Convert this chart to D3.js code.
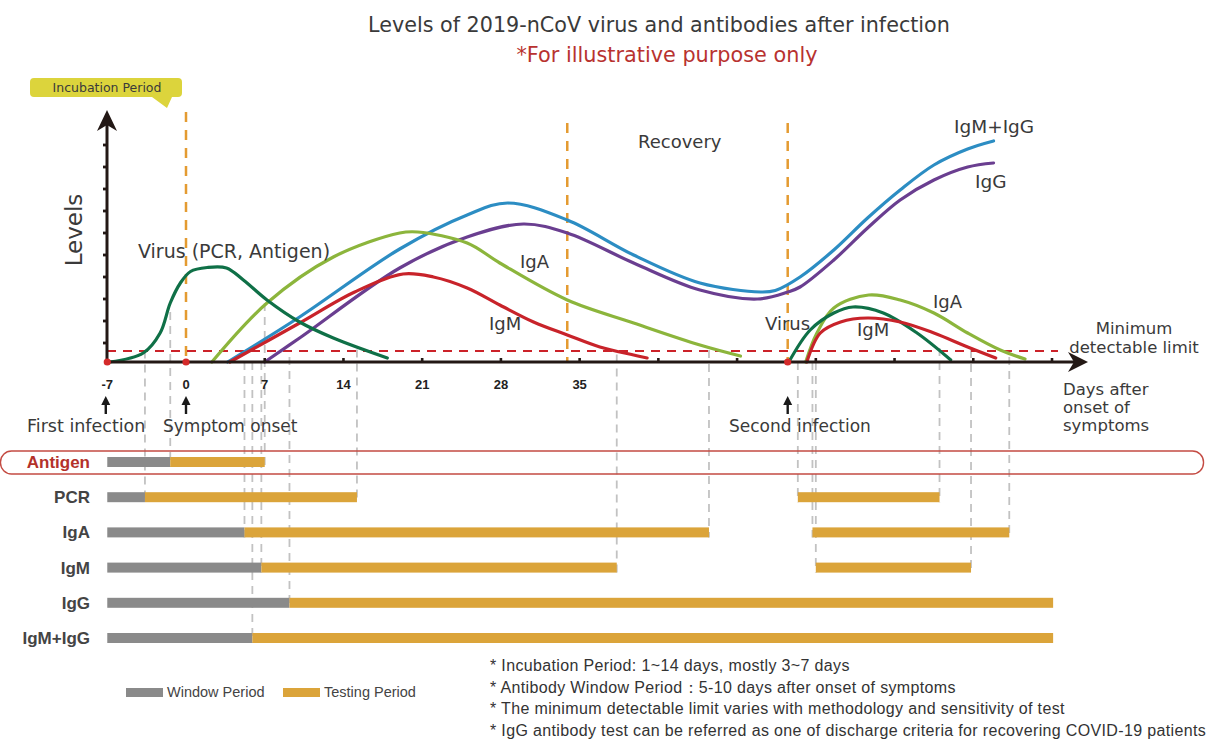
<!DOCTYPE html>
<html>
<head>
<meta charset="utf-8">
<script src="https://cdn.jsdelivr.net/npm/d3@7"></script>
<style>
  body { margin: 0; background: #fff; }
  svg { display: block; font-family: "DejaVu Sans", sans-serif; }
</style>
</head>
<body>
<svg id="chart" width="1206" height="740"></svg>
<script>
// ---- data (x = days after onset, y = relative level 0..100) ----
const dayTicks = [-7, 0, 7, 14, 21, 28, 35];
const tickMarks = [7, 14, 21, 28, 35, 42, 49, 56, 63, 70, 77];
const levelTicks = [7.6, 16.4, 25.2, 34, 42.8, 51.6, 60.4, 69.2, 78, 86.8];
const detectLimit = 4.4;
const infectionDays = [-7, 0, 53.5];

const virus1 = [[-6.8,0],[-3.8,3.6],[-2.3,11.6],[-1.4,23.6],[-0.5,31.6],[0.4,36.2],[1.9,37.8],[3.6,37.6],[5.1,32.8],[7.2,24.8],[10.1,16],[13.1,9.6],[17.9,1.6]];
const iga1 = [[2.3,0],[7.2,23.6],[13.1,42],[19,51.6],[20.6,52],[25,47.6],[27.9,39.6],[33.9,24.8],[39.8,15.6],[45.7,6.8],[49.3,2.4]];
const igmigg = [[3.7,0],[10.1,18],[19,45.2],[25,58.8],[28.6,63.6],[33.9,56.8],[39.8,42.8],[45.7,31.6],[51.1,28],[52.4,28.6],[54.6,34],[57.6,44.8],[60.6,57.6],[63.5,68.8],[66.5,78.8],[69.5,85.2],[71.8,88.4]];
const igg = [[7,0],[10.1,9.6],[19,37.6],[25,50],[30,55.2],[33.9,51.6],[39.8,39.6],[45.7,28.8],[50.8,25.2],[53.5,28],[54.6,30],[57.6,40.8],[60.6,53.6],[63.5,64.8],[66.5,72.8],[69.5,78],[71.8,79.6]];
const igm1 = [[3.9,0],[10.1,15.6],[15,28],[19.3,35.2],[22,34],[25,29.6],[27.9,22.8],[30.9,16],[33.9,10.8],[36.8,6],[39.8,2.8],[41,1.6]];
const virus2 = [[53.6,0],[55.5,12.8],[57.6,19.6],[59.3,22],[62,19.6],[65,11.6],[68,0.8]];
const iga2 = [[55.1,0],[56.1,11.6],[57.6,21.6],[60.7,26.8],[63.5,24.8],[66.5,19.6],[69.5,11.6],[72.4,4.8],[74.6,1.2]];
const igm2 = [[55.2,0],[56.4,11.6],[58.2,16],[60.6,17.6],[63.5,16],[66.5,11.6],[69.5,6],[72,1.6]];

const phaseLines = [0, 33.9, 53.5];

const rows = ["Antigen", "PCR", "IgA", "IgM", "IgG", "IgM+IgG"];
// [row, start, end, kind]
const periods = [
  ["Antigen", -7, -1.4, "window"], ["Antigen", -1.4, 7, "testing"],
  ["PCR", -7, -3.65, "window"], ["PCR", -3.65, 15.2, "testing"], ["PCR", 54.4, 67, "testing"],
  ["IgA", -7, 5.2, "window"], ["IgA", 5.2, 46.5, "testing"], ["IgA", 55.7, 73.2, "testing"],
  ["IgM", -7, 6.7, "window"], ["IgM", 6.7, 38.3, "testing"], ["IgM", 56, 69.8, "testing"],
  ["IgG", -7, 9.2, "window"], ["IgG", 9.2, 77.1, "testing"],
  ["IgM+IgG", -7, 5.9, "window"], ["IgM+IgG", 5.9, 77.1, "testing"]
];
// [day, top level, row it drops to]
const guides = [
  [-3.65, 4.6, "PCR"], [-1.4, 20, "Antigen"], [5.2, 0, "IgA"], [5.9, 0, "IgM+IgG"],
  [6.7, 0, "IgM"], [7, 23.6, "Antigen"], [9.2, 2, "IgG"], [15.2, 5, "PCR"],
  [38.3, 3, "IgM"], [46.5, 4.8, "IgA"], [54.4, 0, "PCR"], [55.7, 0, "IgA"],
  [56, 0, "IgM"], [67, 5.6, "PCR"], [69.8, 4.8, "IgM"], [73.2, 2, "IgA"]
];

const notes = [
  "* Incubation Period: 1~14 days, mostly 3~7 days",
  "* Antibody Window Period\uff1a5-10 days after onset of symptoms",
  "* The minimum detectable limit varies with methodology and sensitivity of test",
  "* IgG antibody test can be referred as one of discharge criteria for recovering COVID-19 patients"
];

// ---- scales ----
const svg = d3.select("#chart");
const x = d3.scaleLinear().domain([0, 77]).range([186, 1052]);
const y = d3.scaleLinear().domain([0, 100]).range([362, 112]);
const rowY = d3.scalePoint().domain(rows).range([462, 638]);
const col = {
  dgreen: "#0f7047", lgreen: "#8cb53c", blue: "#2c8dc3", purple: "#6a3e90",
  red: "#c8232a", orange: "#e49b31", gray: "#8a8a8a", gold: "#dba43a", text: "#3a3a3a"
};
const sans = "'Liberation Sans', Arial, sans-serif";

// ---- gray guide lines ----
svg.append("g")
  .selectAll("line")
  .data(guides)
  .join("line")
  .attr("x1", d => x(d[0])).attr("x2", d => x(d[0]))
  .attr("y1", d => y(d[1])).attr("y2", d => rowY(d[2]) + 5)
  .attr("stroke", "#c2c2c2").attr("stroke-width", 1.8)
  .attr("stroke-dasharray", "8,6");

// ---- antigen highlight box ----
svg.append("rect")
  .attr("x", 0.5).attr("y", 451).attr("width", 1203).attr("height", 23)
  .attr("rx", 11)
  .attr("fill", "none").attr("stroke", "#c44b43").attr("stroke-width", 1.4);

// ---- bars ----
svg.append("g")
  .selectAll("rect")
  .data(periods)
  .join("rect")
  .attr("x", d => x(d[1]))
  .attr("width", d => x(d[2]) - x(d[1]))
  .attr("y", d => rowY(d[0]) - 5)
  .attr("height", 10)
  .attr("fill", d => d[3] === "window" ? col.gray : col.gold);

svg.append("g")
  .selectAll("text")
  .data(rows)
  .join("text")
  .attr("x", 90).attr("y", d => rowY(d) + 6)
  .attr("text-anchor", "end")
  .style("font-family", sans)
  .style("font-weight", "bold").style("font-size", "17px")
  .attr("fill", d => d === "Antigen" ? "#b3312b" : "#444")
  .text(d => d);

// ---- phase lines (orange) ----
svg.append("g")
  .selectAll("line")
  .data(phaseLines)
  .join("line")
  .attr("x1", d => x(d)).attr("x2", d => x(d))
  .attr("y1", (d, i) => i === 0 ? 112 : 123).attr("y2", y(0))
  .attr("stroke", col.orange).attr("stroke-width", 2.5)
  .attr("stroke-dasharray", "10,8");

// ---- detection limit ----
svg.append("line")
  .attr("x1", 107).attr("x2", 1058)
  .attr("y1", y(detectLimit)).attr("y2", y(detectLimit))
  .attr("stroke", "#cc2229").attr("stroke-width", 2.2)
  .attr("stroke-dasharray", "9,7");

// ---- curves ----
const line = d3.line()
  .x(d => x(d[0])).y(d => y(d[1]))
  .curve(d3.curveCatmullRom.alpha(0.5));

const series = [
  [igmigg, col.blue], [igg, col.purple], [iga1, col.lgreen], [igm1, col.red],
  [virus1, col.dgreen], [iga2, col.lgreen], [virus2, col.dgreen], [igm2, col.red]
];
svg.append("g")
  .selectAll("path")
  .data(series)
  .join("path")
  .attr("d", d => line(d[0]))
  .attr("fill", "none")
  .attr("stroke", d => d[1])
  .attr("stroke-width", 3.2)
  .attr("stroke-linecap", "round");

// ---- axes ----
const axis = svg.append("g").attr("stroke", "#231815");
axis.append("line").attr("x1", 107).attr("x2", 1078).attr("y1", y(0)).attr("y2", y(0)).attr("stroke-width", 3);
axis.append("path").attr("d", "M1088,362 L1068,352 L1074,362 L1068,372 Z").attr("fill", "#231815").attr("stroke", "none");
axis.append("line").attr("x1", 107).attr("x2", 107).attr("y1", y(0) + 1.5).attr("y2", 122).attr("stroke-width", 3);
axis.append("path").attr("d", "M107,110 L97,131 L107,125 L117,131 Z").attr("fill", "#231815").attr("stroke", "none");

axis.selectAll(".xt")
  .data(tickMarks)
  .join("line")
  .attr("x1", d => x(d)).attr("x2", d => x(d))
  .attr("y1", y(0) - 4).attr("y2", y(0))
  .attr("stroke-width", 2.6);

axis.selectAll(".yt")
  .data(levelTicks)
  .join("line")
  .attr("x1", 103).attr("x2", 107)
  .attr("y1", d => y(d)).attr("y2", d => y(d))
  .attr("stroke-width", 2.8);

svg.append("g")
  .selectAll("circle")
  .data(infectionDays)
  .join("circle")
  .attr("cx", d => x(d)).attr("cy", y(0))
  .attr("r", 3.6).attr("fill", "#d42a2a");

svg.append("g")
  .selectAll("text")
  .data(dayTicks)
  .join("text")
  .attr("x", d => x(d)).attr("y", 389)
  .attr("text-anchor", "middle")
  .style("font-family", sans)
  .style("font-weight", "bold").style("font-size", "13px")
  .attr("fill", "#222")
  .text(d => d);

// arrows under infection / onset points
const arrows = svg.append("g")
  .selectAll("g")
  .data(infectionDays)
  .join("g")
  .attr("transform", d => `translate(${x(d) - (d === -7 ? 1.5 : 0)},0)`);
arrows.append("line").attr("y1", 402).attr("y2", 414).attr("stroke", "#1a1a1a").attr("stroke-width", 2.4);
arrows.append("path").attr("d", "M0,396 L-4.5,405 L4.5,405 Z").attr("fill", "#1a1a1a");

// ---- labels ----
const lab = (t, px, py, size, opts = {}) =>
  svg.append("text")
    .attr("x", px).attr("y", py)
    .attr("text-anchor", opts.anchor || "start")
    .attr("fill", opts.fill || col.text)
    .style("font-size", size + "px")
    .style("font-family", opts.family || null)
    .text(t);

lab("Levels of 2019-nCoV virus and antibodies after infection", 659, 32, 20.7, { anchor: "middle" });
lab("*For illustrative purpose only", 667, 62, 20.8, { anchor: "middle", fill: "#b8322f" });

svg.append("path")
  .attr("d", "M34,78 H178 Q182,78 182,82 V93 Q182,97 178,97 H172 L167,108 L152,97 H34 Q30,97 30,93 V82 Q30,78 34,78 Z")
  .attr("fill", "#dcd43c");
lab("Incubation Period", 107, 92, 12.5, { anchor: "middle" });

lab("Levels", 0, 0, 23, { anchor: "middle" }).attr("transform", "translate(82,230) rotate(-90)");

lab("Virus (PCR, Antigen)", 138, 258, 19);
lab("IgA", 520, 268, 18);
lab("IgM", 489, 330, 18);
lab("Recovery", 638, 148, 18);
lab("IgM+IgG", 954, 133, 18.5);
lab("IgG", 975, 188, 18.5);
lab("IgA", 933, 308, 18);
lab("Virus", 765, 330, 18);
lab("IgM", 857, 336, 18);
lab("Minimum", 1134, 334, 16.5, { anchor: "middle" });
lab("detectable limit", 1134, 353, 16.5, { anchor: "middle" });
lab("Days after", 1063, 395, 16.5);
lab("onset of", 1063, 413, 16.5);
lab("symptoms", 1063, 431, 16.5);

lab("First infection", 27, 432, 17.5);
lab("Symptom onset", 163, 432, 17);
lab("Second infection", 729, 432, 17);

// legend
const legend = [["Window Period", col.gray, 126], ["Testing Period", col.gold, 283]];
const lg = svg.append("g").selectAll("g").data(legend).join("g");
lg.append("rect").attr("x", d => d[2]).attr("y", 688).attr("width", 37).attr("height", 9).attr("fill", d => d[1]);
lg.append("text").attr("x", d => d[2] + 41).attr("y", 697)
  .style("font-family", sans).style("font-size", "14.5px")
  .attr("fill", "#444").text(d => d[0]);

// footnotes
svg.append("g")
  .selectAll("text")
  .data(notes)
  .join("text")
  .attr("x", 490).attr("y", (d, i) => 671 + i * 21.7)
  .style("font-family", sans).style("font-size", "16px")
  .style("letter-spacing", "0.35px")
  .attr("fill", "#333")
  .text(d => d);
</script>
</body>
</html>
